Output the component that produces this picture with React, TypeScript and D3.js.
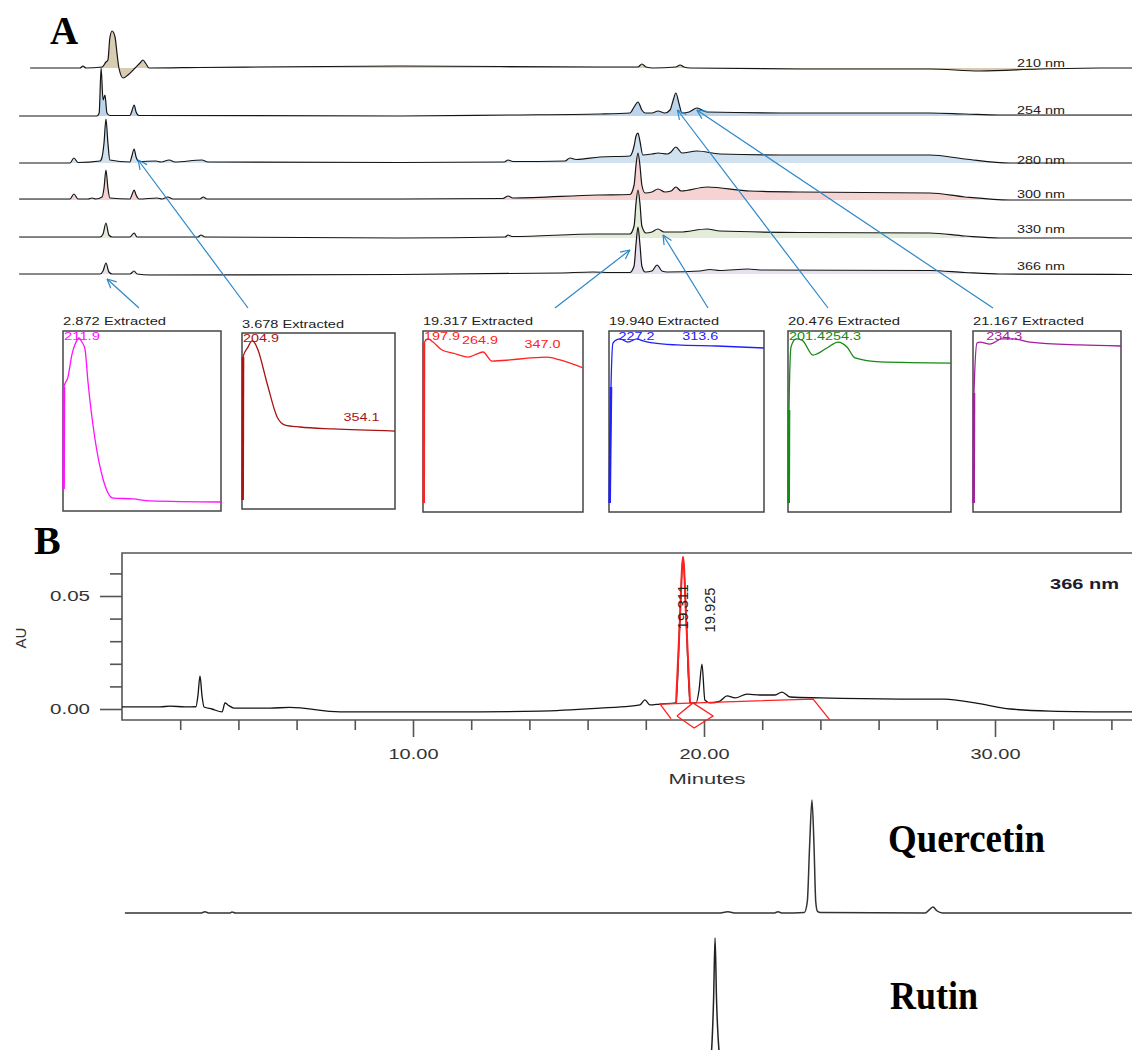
import React, { useEffect, useRef } from "react";
import * as d3 from "d3";

type Pt = [number, number];

// ---- panel A: stacked chromatograms, [minutes, height above the trace's own baseline]
const wavelengths = ["210 nm", "254 nm", "280 nm", "300 nm", "330 nm", "366 nm"];

const trace210: Pt[] = [[0.56, 0], [2.1, 0], [2.19, 2], [2.28, 0], [2.78, 1], [2.9, 6], [2.96, 8], [3.02, 30], [3.09, 37], [3.18, 31], [3.24, 15], [3.3, 0], [3.43, -10], [3.58, -7], [3.8, 0], [3.95, 5], [4.04, 8], [4.14, 4], [4.23, 0], [5.8, 0.5], [11.98, 2], [18.15, 1], [19.32, 1], [19.44, 4], [19.57, 1], [19.78, 0], [20.49, 1], [20.62, 3], [20.74, 1], [20.93, 0], [24.32, -1], [28.33, -1], [29.88, -3], [31.73, -1], [33.58, 0], [34.6, 0]];
const trace254: Pt[] = [[0.22, 0], [2.62, 0], [2.69, 3], [2.75, 48], [2.81, 16], [2.87, 21], [2.93, 3], [3.02, 0.5], [3.64, 0.5], [3.7, 5], [3.77, 11], [3.83, 4], [3.92, 0.5], [11.98, 0], [15.31, 1], [18.15, 2], [19.07, 3], [19.2, 9], [19.32, 14], [19.44, 6], [19.54, 3], [19.75, 3], [19.94, 5], [20.15, 3], [20.31, 6], [20.4, 15], [20.49, 23], [20.59, 12], [20.68, 3], [20.9, 4], [21.14, 8], [21.45, 4], [24.32, 3], [28.33, 3], [29.41, 2], [30.49, 1], [34.6, 1]];
const trace280: Pt[] = [[0.22, 0], [1.79, 0], [1.91, 5], [2.04, 0.5], [2.72, 2], [2.78, 6], [2.84, 20], [2.9, 44], [2.96, 20], [3.02, 3], [3.64, 1], [3.7, 7], [3.77, 14], [3.83, 6], [3.92, 1.5], [4.44, 2], [4.6, 1], [4.85, 3], [5.03, 1], [5.86, 3], [6.05, 1], [11.98, 0.5], [15.19, 1], [15.31, 3], [15.46, 1.5], [17.07, 2], [17.22, 5], [17.41, 3.5], [18.15, 6], [19.07, 7], [19.2, 17], [19.26, 27], [19.32, 30], [19.38, 22], [19.47, 8], [19.75, 9], [19.94, 10], [20.22, 9], [20.34, 11], [20.49, 16], [20.68, 10], [21.14, 12], [21.85, 9], [24.32, 8], [28.33, 8], [29.41, 4], [30.8, 0], [34.6, 0]];
const trace300: Pt[] = [[0.22, 1], [1.79, 1], [1.91, 6], [2.04, 1], [2.35, 1], [2.47, 2], [2.59, 1], [2.78, 3], [2.84, 12], [2.9, 30], [2.96, 12], [3.02, 2], [3.64, 1], [3.7, 5], [3.77, 10], [3.83, 5], [3.92, 1], [4.48, 2], [4.63, 1], [4.81, 3], [4.97, 1], [5.8, 1], [5.9, 3], [6.02, 1], [11.98, 1], [15.15, 1.5], [15.31, 4], [15.46, 2], [18.06, 5], [19.07, 5.5], [19.2, 15], [19.26, 35], [19.32, 47], [19.38, 35], [19.44, 15], [19.54, 7], [19.75, 8], [19.94, 11], [20.15, 8], [20.34, 9], [20.49, 13], [20.65, 9], [21.45, 13], [22.78, 9], [24.32, 8], [28.33, 7], [29.41, 3], [30.8, 0], [34.6, 0]];
const trace330: Pt[] = [[0.22, 1], [2.72, 1], [2.81, 4], [2.9, 15], [2.99, 3], [3.09, 1], [3.64, 1], [3.77, 5], [3.86, 1], [5.74, 1], [5.83, 3], [5.96, 1], [11.98, 0], [15.22, 1], [15.31, 3], [15.43, 1.5], [18.06, 4], [19.07, 4], [19.2, 12], [19.26, 35], [19.32, 48], [19.38, 35], [19.44, 12], [19.57, 5], [19.75, 6], [19.94, 9], [20.12, 6], [20.62, 6], [21.45, 9], [21.85, 7], [24.32, 5.5], [28.33, 5], [29.41, 2], [30.49, 0], [34.6, 0]];
const trace366: Pt[] = [[0.22, 0], [2.72, 0], [2.81, 3], [2.9, 11], [2.99, 2], [3.09, 0], [3.64, 0], [3.77, 3], [3.86, 0], [4.26, -1], [11.98, -0.5], [16.9, 1], [17.93, 2], [18.46, 1.5], [19.07, 1.5], [19.2, 8], [19.26, 30], [19.32, 47], [19.38, 30], [19.44, 8], [19.54, 2], [19.75, 3], [19.91, 9], [20.06, 3], [20.22, 2], [21.23, 3], [21.54, 4.5], [21.85, 3.5], [22.72, 5], [23.09, 4], [28.33, 3.5], [29.41, 1.5], [30.49, 0], [34.6, -0.5]];
const tracesA = [trace210, trace254, trace280, trace300, trace330, trace366];

// ---- extracted UV spectra, [nm, relative absorbance]
const extractedTimes = ["2.872", "3.678", "19.317", "19.940", "20.476", "21.167"];
const spec2872: Pt[] = [[190.8, 0.122], [191.3, 0.689], [196.6, 0.744], [202, 0.872], [206.5, 0.93], [211.3, 0.961], [215, 0.94], [219.2, 0.9], [223.2, 0.717], [232.5, 0.4], [243.2, 0.178], [256.5, 0.072], [283, 0.067], [305.6, 0.056], [400, 0.05]];
const spec3678: Pt[] = [[190.9, 0.051], [191.4, 0.864], [198.2, 0.92], [203.7, 0.955], [208, 0.94], [212, 0.903], [224.3, 0.716], [238.2, 0.523], [249.2, 0.477], [269.6, 0.466], [314.9, 0.455], [400, 0.443]];
const spec19317: Pt[] = [[190.9, 0.05], [191.3, 0.934], [196.6, 0.956], [203.1, 0.939], [214.9, 0.895], [229.4, 0.878], [249.1, 0.856], [260.9, 0.873], [268.8, 0.884], [280.6, 0.834], [304.2, 0.84], [330.4, 0.851], [352.8, 0.856], [369.8, 0.84], [400, 0.796]];
const spec19940: Pt[] = [[190.9, 0.05], [192.7, 0.69], [195.4, 0.934], [204.9, 0.956], [215.7, 0.939], [227.9, 0.956], [236.1, 0.945], [249.6, 0.934], [282.1, 0.923], [336.3, 0.917], [400, 0.906]];
const spec20476: Pt[] = [[190.9, 0.05], [191.3, 0.564], [193.9, 0.912], [200.3, 0.956], [208, 0.95], [222.2, 0.867], [240.2, 0.906], [254.4, 0.939], [266, 0.912], [276.3, 0.851], [308.5, 0.829], [400, 0.823]];
const spec21167: Pt[] = [[190.9, 0.05], [191.4, 0.657], [195.7, 0.934], [199.9, 0.939], [214.1, 0.928], [231.1, 0.956], [246.8, 0.956], [270.9, 0.939], [341.8, 0.923], [400, 0.917]];
const spectra = [spec2872, spec3678, spec19317, spec19940, spec20476, spec21167];
const spectraMaxima = [["211.9"], ["204.9", "354.1"], ["197.9", "264.9", "347.0"], ["227.2", "313.6"], ["201.4", "254.3"], ["234.3"]];

// ---- panel B: sample at 366 nm, [minutes, AU]
const sample366: Pt[] = [[0, 0.0009], [1.31, 0.0009], [1.65, 0.0013], [2.16, 0.0009], [2.54, 0.001], [2.61, 0.006], [2.68, 0.0146], [2.75, 0.0058], [2.82, 0.0009], [3.09, 0], [3.44, -0.0013], [3.54, 0.0027], [3.64, 0.0018], [3.85, 0.0004], [5.09, 0.0004], [5.77, 0.0007], [7.49, -0.0013], [11.27, -0.0013], [14.36, -0.0009], [16.43, 0.0004], [17.46, 0.0013], [17.8, 0.0018], [17.97, 0.004], [18.14, 0.0018], [18.49, 0.0022], [19.04, 0.0027], [19.17, 0.039], [19.28, 0.0673], [19.39, 0.039], [19.52, 0.0027], [19.73, 0.0027], [19.83, 0.0084], [19.93, 0.0199], [20.03, 0.004], [20.21, 0.0027], [20.55, 0.0035], [20.79, 0.0058], [21.07, 0.0049], [21.48, 0.0066], [21.92, 0.0062], [22.44, 0.0062], [22.68, 0.0075], [22.96, 0.0053], [23.99, 0.0049], [26.74, 0.0044], [28.28, 0.0044], [29.31, 0.0027], [30.52, 0], [31.89, -0.0009], [34.71, -0.0013]];
const peakTimes = ["19.311", "19.925"];
const integrationLine: Pt[] = [[18.87, -0.0044], [18.49, 0.0022], [23.75, 0.0044], [24.33, -0.0049]];
const integrationDiamond: Pt[] = [[19.07, -0.0031], [19.66, -0.0084], [20.31, -0.0031], [19.62, 0.0027], [19.07, -0.0031]];
const auMajor = [0, 0.05];
const auMinor = [0.01, 0.02, 0.03, 0.04, 0.06];
const minuteMajor = [10, 20, 30];
const minuteMinor = [2, 4, 6, 8, 12, 14, 16, 18, 22, 24, 26, 28, 32, 34];

// ---- reference standards, [minutes, relative height]
const quercetin: Pt[] = [[0.1, 0], [2.7, 0], [2.85, 0.01], [3, 0], [3.7, 0], [3.78, 0.008], [3.9, 0], [20.5, 0], [20.82, 0.01], [21.1, 0], [22.4, 0], [22.54, 0.01], [22.7, 0], [23.45, 0.005], [23.55, 0.1], [23.63, 0.6], [23.71, 1], [23.78, 0.6], [23.84, 0.1], [23.9, 0.015], [24, 0.005], [27.6, 0], [27.75, 0.03], [27.87, 0.053], [28, 0.02], [28.2, 0], [34.7, 0]];
const rutin: Pt[] = [[19.8, 0], [20.1, 0.03], [20.24, 0.2], [20.33, 0.6], [20.38, 1], [20.43, 0.6], [20.54, 0.2], [20.7, 0.03], [21, 0]];

// layout
const W = 1132;
const H = 1050;
const SANS = "'Liberation Sans', Arial, sans-serif";
const SERIF = "'Liberation Serif', 'Times New Roman', serif";
const traceBase = [68, 116, 163, 200, 238, 274];
const traceLabelY = [67, 114, 164, 198, 233, 270];
const traceFill = ["#d8cdb2", "#bcd5ec", "#d0e1f0", "#f6d3d3", "#e3ecd8", "#e8e0ef"];
const boxes = [
  { x0: 63, x1: 221, y0: 331, y1: 511, ty: 325, tw: 103 },
  { x0: 242, x1: 395, y0: 333, y1: 509, ty: 328, tw: 102 },
  { x0: 423, x1: 583, y0: 331, y1: 512, ty: 325, tw: 110 },
  { x0: 609, x1: 764, y0: 331, y1: 512, ty: 325, tw: 110 },
  { x0: 788, x1: 951, y0: 331, y1: 512, ty: 325, tw: 112 },
  { x0: 973, x1: 1121, y0: 331, y1: 512, ty: 325, tw: 111 },
];
const specColor = ["#ff10ff", "#a81414", "#ff2222", "#2020ff", "#158a15", "#a41ca0"];
const arrowStartX = [139, 248, 555, 708, 828, 993];
const arrowTarget = [
  { trace: 5, dx: 2, dy: 5 },
  { trace: 2, dx: 7, dy: -3 },
  { trace: 5, dx: -8, dy: -24 },
  { trace: 4, dx: 5, dy: -3 },
  { trace: 1, dx: 2, dy: -6 },
  { trace: 1, dx: -1, dy: -6 },
];

export default function App() {
  const ref = useRef<SVGSVGElement | null>(null);

  useEffect(() => {
    const svg = d3.select(ref.current);
    svg.selectAll("*").remove();

    // ================= panel A =================
    const xA = d3.scaleLinear().domain([0, 35]).range([12, 1146]);
    const hA = d3.scaleLinear().domain([0, 50]).range([0, -50]);

    svg.append("text").attr("x", 50).attr("y", 44)
      .style("font-family", SERIF).style("font-weight", "bold").style("font-size", "39px")
      .text("A");

    const areaA = d3.area<Pt>().x(d => xA(d[0])).y0(hA(0)).y1(d => hA(d[1])).curve(d3.curveMonotoneX);
    const lineA = d3.line<Pt>().x(d => xA(d[0])).y(d => hA(d[1])).curve(d3.curveMonotoneX);

    tracesA.forEach((tr, i) => {
      svg.append("path").datum(tr)
        .attr("transform", `translate(0,${traceBase[i]})`)
        .attr("d", areaA)
        .attr("fill", traceFill[i]);
    });
    tracesA.forEach((tr, i) => {
      svg.append("path").datum(tr)
        .attr("transform", `translate(0,${traceBase[i]})`)
        .attr("d", lineA)
        .attr("fill", "none")
        .attr("stroke", "#151515")
        .attr("stroke-width", 1.2);
      svg.append("text")
        .attr("x", 1017).attr("y", traceLabelY[i])
        .attr("textLength", 48).attr("lengthAdjust", "spacingAndGlyphs")
        .style("font-family", SANS).style("font-size", "11px").style("fill", "#222")
        .text(wavelengths[i]);
    });

    // arrows from spectra to peaks
    const arrowColor = "#2b87c8";
    extractedTimes.forEach((rt, i) => {
      const tgt = arrowTarget[i];
      const tx = xA(+rt) + tgt.dx;
      const ty = traceBase[tgt.trace] + tgt.dy;
      const sx = arrowStartX[i];
      const sy = 308;
      svg.append("line")
        .attr("x1", sx).attr("y1", sy).attr("x2", tx).attr("y2", ty)
        .attr("stroke", arrowColor).attr("stroke-width", 1.2);
      const a = Math.atan2(sy - ty, sx - tx);
      [-0.45, 0.45].forEach(off => {
        svg.append("line")
          .attr("x1", tx).attr("y1", ty)
          .attr("x2", tx + 10 * Math.cos(a + off)).attr("y2", ty + 10 * Math.sin(a + off))
          .attr("stroke", arrowColor).attr("stroke-width", 1.2);
      });
    });

    // spectra boxes
    spectra.forEach((spec, i) => {
      const b = boxes[i];
      const sx = d3.scaleLinear().domain([190, 400]).range([b.x0, b.x1]);
      const sy = d3.scaleLinear().domain([0, 1]).range([b.y1, b.y0]);
      const interp = d3.scaleLinear().domain(spec.map(d => d[0])).range(spec.map(d => d[1]));

      svg.append("text")
        .attr("x", b.x0).attr("y", b.ty)
        .attr("textLength", b.tw).attr("lengthAdjust", "spacingAndGlyphs")
        .style("font-family", SANS).style("font-size", "11.5px").style("fill", "#222")
        .text(`${extractedTimes[i]} Extracted`);

      svg.append("rect")
        .attr("x", b.x0).attr("y", b.y0)
        .attr("width", b.x1 - b.x0).attr("height", b.y1 - b.y0)
        .attr("fill", "none").attr("stroke", "#454545").attr("stroke-width", 1.5);

      const line = d3.line<Pt>().x(d => sx(d[0])).y(d => sy(d[1])).curve(d3.curveMonotoneX);
      svg.append("path").datum(spec)
        .attr("d", line).attr("fill", "none")
        .attr("stroke", specColor[i]).attr("stroke-width", 1.3);
      svg.append("path").datum(spec.slice(0, 2))
        .attr("d", d3.line<Pt>().x(d => sx(d[0])).y(d => sy(d[1])))
        .attr("fill", "none").attr("stroke", specColor[i]).attr("stroke-width", 2.6);

      let prevEnd = b.x0 + 1;
      spectraMaxima[i].forEach(lbl => {
        const wl = +lbl;
        const w = 36;
        const x = Math.max(prevEnd, sx(wl) - w / 2);
        const y = Math.max(b.y0 + 9, sy(interp(wl)) - 9);
        prevEnd = x + w;
        svg.append("text")
          .attr("x", x).attr("y", y)
          .attr("textLength", w).attr("lengthAdjust", "spacingAndGlyphs")
          .style("font-family", SANS).style("font-size", "11.5px").style("fill", specColor[i])
          .text(lbl);
      });
    });

    // ================= panel B =================
    const xB = d3.scaleLinear().domain([0, 35]).range([122, 1140.5]);
    const yB = d3.scaleLinear().domain([0, 0.05]).range([709, 596]);
    const frameTop = 553;
    const frameBottom = 720;

    svg.append("text").attr("x", 34).attr("y", 554)
      .style("font-family", SERIF).style("font-weight", "bold").style("font-size", "40px")
      .text("B");

    const axisColor = "#555";
    svg.append("path")
      .attr("d", `M${W + 5},${frameTop}H${xB(0)}V${frameBottom}H${W + 5}`)
      .attr("fill", "none").attr("stroke", axisColor).attr("stroke-width", 1.6);

    const yMajor = svg.append("g").attr("transform", `translate(${xB(0)},0)`)
      .call(d3.axisLeft(yB).tickValues(auMajor).tickSize(22).tickPadding(10).tickFormat(d3.format(".2f")));
    const yMinor = svg.append("g").attr("transform", `translate(${xB(0)},0)`)
      .call(d3.axisLeft(yB).tickValues(auMinor).tickSize(12).tickFormat(() => ""));
    const xMajor = svg.append("g").attr("transform", `translate(0,${frameBottom})`)
      .call(d3.axisBottom(xB).tickValues(minuteMajor).tickSize(17).tickPadding(11).tickFormat(d3.format(".2f")));
    const xMinor = svg.append("g").attr("transform", `translate(0,${frameBottom})`)
      .call(d3.axisBottom(xB).tickValues(minuteMinor).tickSize(10).tickFormat(() => ""));
    [yMajor, yMinor, xMajor, xMinor].forEach(g => {
      g.select(".domain").remove();
      g.selectAll("line").attr("stroke", axisColor).attr("stroke-width", 1.6);
      g.selectAll("text")
        .style("font-family", SANS).style("font-size", "15px").style("fill", "#333");
    });
    yMajor.selectAll("text").attr("textLength", 40).attr("lengthAdjust", "spacingAndGlyphs");
    xMajor.selectAll("text").attr("textLength", 50).attr("lengthAdjust", "spacingAndGlyphs");

    svg.append("text")
      .attr("transform", `translate(26,638) rotate(-90)`)
      .attr("text-anchor", "middle")
      .style("font-family", SANS).style("font-size", "15px").style("fill", "#333")
      .text("AU");
    svg.append("text")
      .attr("x", 707).attr("y", 784).attr("text-anchor", "middle")
      .attr("textLength", 77).attr("lengthAdjust", "spacingAndGlyphs")
      .style("font-family", SANS).style("font-size", "15px").style("fill", "#333")
      .text("Minutes");
    svg.append("text")
      .attr("x", 1050).attr("y", 589)
      .attr("textLength", 69).attr("lengthAdjust", "spacingAndGlyphs")
      .style("font-family", SANS).style("font-weight", "bold").style("font-size", "15px").style("fill", "#1c1c30")
      .text("366 nm");

    const lineB = d3.line<Pt>().x(d => xB(d[0])).y(d => yB(d[1]));
    svg.append("path").datum(sample366)
      .attr("d", lineB.curve(d3.curveMonotoneX))
      .attr("fill", "none").attr("stroke", "#151515").attr("stroke-width", 1.3);

    // integrated peak + baseline markers in red
    const red = "#ff2020";
    svg.append("path").datum(sample366.filter(d => d[0] >= 19.04 && d[0] <= 19.52))
      .attr("d", lineB.curve(d3.curveMonotoneX))
      .attr("fill", "none").attr("stroke", red).attr("stroke-width", 2);
    [integrationLine, integrationDiamond].forEach(poly => {
      svg.append("path").datum(poly)
        .attr("d", d3.line<Pt>().x(d => xB(d[0])).y(d => yB(d[1])))
        .attr("fill", "none").attr("stroke", red).attr("stroke-width", 1.3);
    });

    // peak retention labels, drawn over the red peak
    const labelOffset = [4, 13];
    const labelMid = [607, 610];
    peakTimes.forEach((rt, i) => {
      svg.append("text")
        .attr("transform", `translate(${xB(+rt) + labelOffset[i]},${labelMid[i]}) rotate(-90)`)
        .attr("text-anchor", "middle")
        .attr("textLength", 45).attr("lengthAdjust", "spacingAndGlyphs")
        .style("font-family", SANS).style("font-size", "15px").style("fill", "#222")
        .text(rt);
    });

    // ================= standards =================
    const yQ = d3.scaleLinear().domain([0, 1]).range([913, 800]);
    const yR = d3.scaleLinear().domain([0, 1]).range([1090, 938]);
    svg.append("path").datum(quercetin)
      .attr("d", d3.line<Pt>().x(d => xB(d[0])).y(d => yQ(d[1])).curve(d3.curveMonotoneX))
      .attr("fill", "none").attr("stroke", "#333").attr("stroke-width", 1.5);
    svg.append("path").datum(rutin)
      .attr("d", d3.line<Pt>().x(d => xB(d[0])).y(d => yR(d[1])).curve(d3.curveMonotoneX))
      .attr("fill", "none").attr("stroke", "#222").attr("stroke-width", 1.5);

    svg.append("text").attr("x", 888).attr("y", 852)
      .attr("textLength", 157).attr("lengthAdjust", "spacingAndGlyphs")
      .style("font-family", SERIF).style("font-weight", "bold").style("font-size", "40px")
      .text("Quercetin");
    svg.append("text").attr("x", 890).attr("y", 1009)
      .attr("textLength", 88).attr("lengthAdjust", "spacingAndGlyphs")
      .style("font-family", SERIF).style("font-weight", "bold").style("font-size", "39px")
      .text("Rutin");
  }, []);

  return (
    <svg
      ref={ref}
      width={W}
      height={H}
      style={{ position: "absolute", left: 0, top: 0, background: "white" }}
    />
  );
}
